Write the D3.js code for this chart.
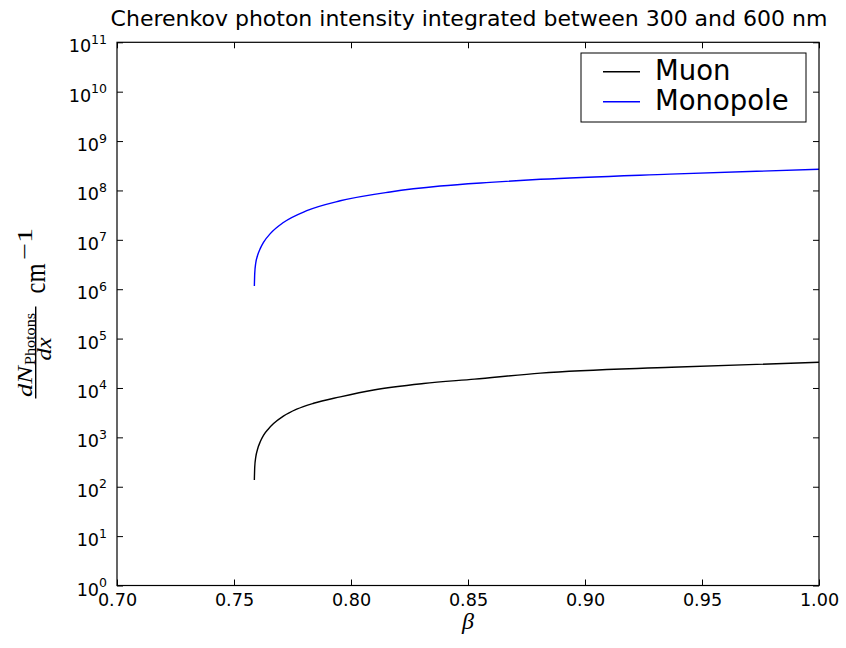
<!DOCTYPE html>
<html>
<head>
<meta charset="utf-8">
<script src="https://cdn.jsdelivr.net/npm/d3@7"></script>
<style>
  body { margin: 0; background: #fff; }
  svg { display: block; font-family: "DejaVu Sans", sans-serif; }
</style>
</head>
<body>
<svg id="chart" width="846" height="648"></svg>
<script>
// ---- data ----
const title = "Cherenkov photon intensity integrated between 300 and 600 nm";
const seriesNames = ["Muon", "Monopole"];
const seriesColors = ["#000000", "#0000ff"];

const betaMuon = [0.7587, 0.75886, 0.7593, 0.7600, 0.7613, 0.7626, 0.7647, 0.7669, 0.7711, 0.7768, 0.784, 0.7954, 0.8097, 0.831, 0.8528, 0.881, 0.937, 1.0];
const muon     = [137, 251, 398, 562, 832, 1100, 1480, 1900, 2690, 3720, 4900, 6600, 9100, 12300, 15100, 20000, 26300, 33100];

const betaMonopole = [0.7587, 0.75886, 0.7593, 0.7600, 0.7613, 0.7626, 0.7656, 0.7711, 0.7811, 0.7954, 0.8167, 0.8381, 0.8594, 0.8809, 0.9363, 1.0];
const monopole     = [1.16e6, 2.09e6, 3.4e6, 4.7e6, 6.8e6, 8.9e6, 1.35e7, 2.24e7, 3.89e7, 6.17e7, 9.33e7, 1.23e8, 1.46e8, 1.68e8, 2.14e8, 2.69e8];

const xTicks = [0.70, 0.75, 0.80, 0.85, 0.90, 0.95, 1.00];
const yExponents = [0, 1, 2, 3, 4, 5, 6, 7, 8, 9, 10, 11];

// ---- layout ----
const L = 117, R = 819, T = 42.3, B = 585.5;
const svg = d3.select("#chart");

const x = d3.scaleLinear().domain([0.70, 1.00]).range([L, R]);
const y = d3.scaleLog().domain([1, 1e11]).range([B, T]);

const yTickVals = yExponents.map(p => Math.pow(10, p));

// axes (ticks pointing inward)
const gx = svg.append("g").attr("transform", `translate(0,${B})`)
  .call(d3.axisBottom(x).tickValues(xTicks).tickFormat(d3.format(".2f")).tickSize(-6).tickPadding(8.5));
gx.select(".domain").remove();
gx.selectAll(".tick text").attr("font-size", 17.6).attr("font-family", "DejaVu Sans").attr("fill", "#000");
gx.selectAll(".tick line").attr("stroke", "#000");

const gxt = svg.append("g").attr("transform", `translate(0,${T})`)
  .call(d3.axisTop(x).tickValues(xTicks).tickFormat("").tickSize(-6));
gxt.select(".domain").remove();
gxt.selectAll(".tick line").attr("stroke", "#000");

const gy = svg.append("g").attr("transform", `translate(${L},0)`)
  .call(d3.axisLeft(y).tickValues(yTickVals).tickFormat("").tickSize(-6).tickPadding(10));
gy.select(".domain").remove();
gy.selectAll(".tick line").attr("stroke", "#000");
gy.selectAll(".tick text")
  .attr("font-size", 17.6).attr("font-family", "DejaVu Sans").attr("fill", "#000")
  .attr("dy", 9.5).attr("text-anchor", "end")
  .each(function(d) {
    const s = d3.select(this);
    s.text(null);
    s.append("tspan").text("10");
    s.append("tspan").attr("dy", -8.5).attr("font-size", 12.5).text(Math.round(Math.log10(d)));
  });

const gyr = svg.append("g").attr("transform", `translate(${R},0)`)
  .call(d3.axisRight(y).tickValues(yTickVals).tickFormat("").tickSize(-6));
gyr.select(".domain").remove();
gyr.selectAll(".tick line").attr("stroke", "#000");

// curves
const line = d3.line().x(d => x(d[0])).y(d => y(d[1])).curve(d3.curveMonotoneX);
const muonData = betaMuon.map((b, i) => [b, muon[i]]);
const monoData = betaMonopole.map((b, i) => [b, monopole[i]]);

svg.append("path").datum(muonData).attr("d", line)
  .attr("fill", "none").attr("stroke", seriesColors[0]).attr("stroke-width", 1.4);
svg.append("path").datum(monoData).attr("d", line)
  .attr("fill", "none").attr("stroke", seriesColors[1]).attr("stroke-width", 1.4);

// frame
svg.append("rect").attr("x", L).attr("y", T).attr("width", R - L).attr("height", B - T)
  .attr("fill", "none").attr("stroke", "#000").attr("stroke-width", 1.2);

// title
svg.append("text").attr("x", 469).attr("y", 26).attr("text-anchor", "middle")
  .attr("font-size", 22).attr("fill", "#000").text(title);

// legend
const lg = svg.append("g");
lg.append("rect").attr("x", 581).attr("y", 53).attr("width", 225).attr("height", 69)
  .attr("fill", "#fff").attr("stroke", "#000").attr("stroke-width", 1);
seriesNames.forEach((name, i) => {
  const yy = 71.7 + i * 30;
  lg.append("line").attr("x1", 603).attr("x2", 640).attr("y1", yy).attr("y2", yy)
    .attr("stroke", seriesColors[i]).attr("stroke-width", 1.4);
  lg.append("text").attr("x", 655).attr("y", yy + 8.5).attr("font-size", 27.5).attr("fill", "#000").text(name);
});

// x label (beta)
svg.append("text").attr("x", 468).attr("y", 629).attr("text-anchor", "middle")
  .attr("font-family", "Liberation Serif, DejaVu Serif, serif").attr("font-style", "italic")
  .attr("font-size", 24).attr("fill", "#000").text("β");

// y label (math fraction, rotated)
const yl = svg.append("g").attr("transform", "translate(35.7,352.5) rotate(-90)")
  .attr("font-family", "Liberation Serif, DejaVu Serif, serif").attr("fill", "#000");
yl.append("line").attr("x1", -46).attr("x2", 46).attr("y1", 0).attr("y2", 0)
  .attr("stroke", "#000").attr("stroke-width", 1.4);
yl.append("text").attr("x", -44.5).attr("y", -4).attr("font-size", 21).attr("font-style", "italic")
  .attr("textLength", 31).attr("lengthAdjust", "spacingAndGlyphs").text("dN");
yl.append("text").attr("x", -12.5).attr("y", -0.8).attr("font-size", 14)
  .attr("textLength", 52).attr("lengthAdjust", "spacingAndGlyphs").text("Photons");
yl.append("text").attr("x", -8).attr("y", 15).attr("font-size", 21).attr("font-style", "italic")
  .attr("textLength", 23).attr("lengthAdjust", "spacingAndGlyphs").text("dx");
yl.append("text").attr("x", 59).attr("y", 9.5).attr("font-size", 29)
  .attr("textLength", 30).attr("lengthAdjust", "spacingAndGlyphs").text("cm");
yl.append("text").attr("x", 92.5).attr("y", -3.7).attr("font-size", 22)
  .attr("textLength", 32).attr("lengthAdjust", "spacingAndGlyphs").text("−1");
</script>
</body>
</html>
